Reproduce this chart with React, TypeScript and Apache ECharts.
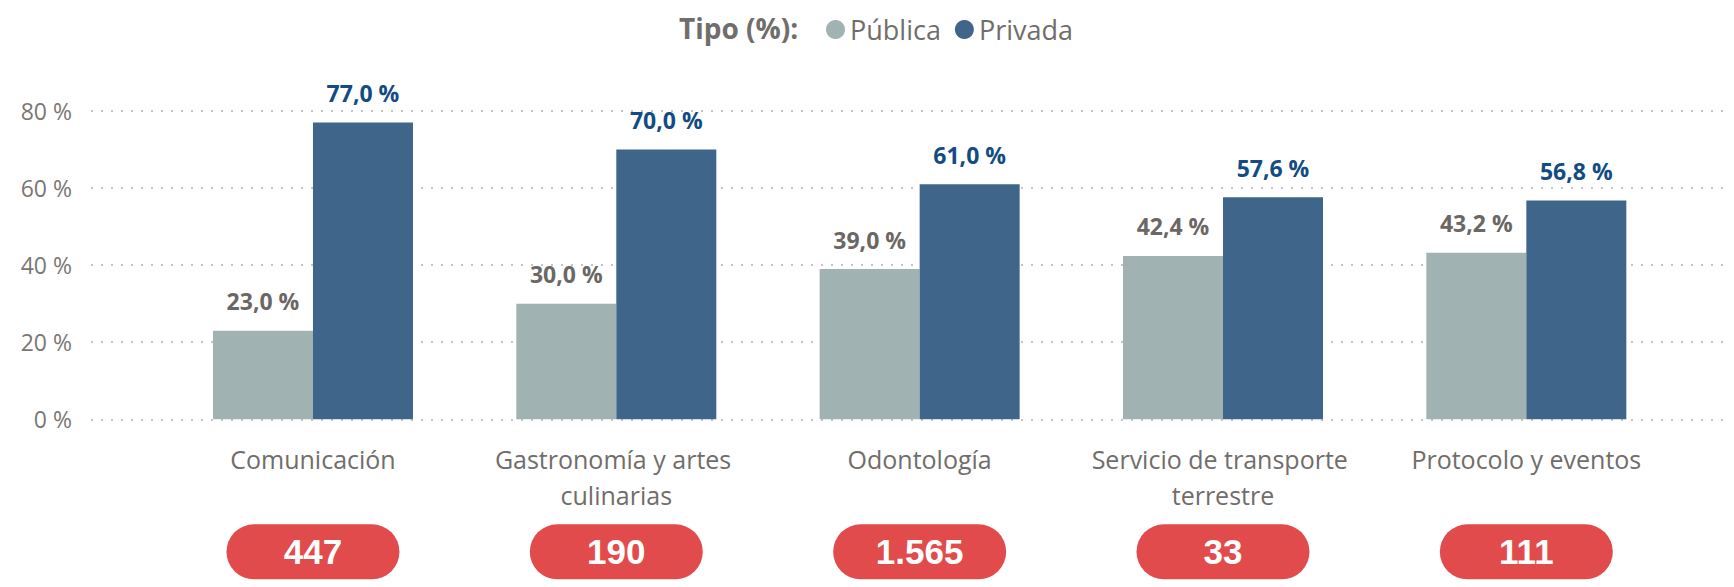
import React, { useEffect, useRef } from "react";
import * as echarts from "echarts";

const categories = [
  "Comunicación",
  "Gastronomía y artes culinarias",
  "Odontología",
  "Servicio de transporte terrestre",
  "Protocolo y eventos",
];
const publica = [23.0, 30.0, 39.0, 42.4, 43.2];
const privada = [77.0, 70.0, 61.0, 57.6, 56.8];
const totals = [447, 190, 1565, 33, 111];
const seriesNames = ["Pública", "Privada"];
const legendTitle = "Tipo (%):";
const yTicks = { min: 0, max: 80, interval: 20 };

const FONT = "'Open Sans', 'Noto Sans', sans-serif";
const GREY = "#706d6a";
const C_PUB = "#a0b2b1";
const C_PRIV = "#40658a";
const PILL = "#e24b4b";

const fmtPct = (v: number) => v.toFixed(1).replace(".", ",") + " %";
const fmtThousands = (v: number) =>
  String(v).replace(/\B(?=(\d{3})+(?!\d))/g, ".");

export default function App() {
  const ref = useRef<HTMLDivElement>(null);
  useEffect(() => {
    if (!ref.current) return;
    const chart = echarts.init(ref.current, null, { renderer: "svg" });
    const gridTop = 111;
    const gridBottom = 587 - 419.3;
    chart.setOption({
      animation: false,
      textStyle: { fontFamily: FONT },
      title: {
        text: legendTitle,
        left: 679,
        top: 14,
        padding: 0,
        textStyle: { fontFamily: FONT, fontSize: 28, fontWeight: "bold", color: GREY },
      },
      legend: {
        data: seriesNames,
        left: 826,
        top: 16,
        padding: 0,
        icon: "circle",
        itemWidth: 19,
        itemHeight: 19,
        itemGap: 14,
        textStyle: { fontFamily: FONT, fontSize: 27, color: GREY },
      },
      grid: [
        { left: 91, right: 4, top: gridTop, bottom: gridBottom },
        { left: 161.3, right: 56, top: gridTop, bottom: gridBottom },
      ],
      xAxis: [
        { gridIndex: 0, type: "value", show: false, min: 0, max: 1 },
        {
          gridIndex: 1,
          type: "category",
          data: categories,
          axisLine: { show: false },
          axisTick: { show: false },
          axisLabel: {
            interval: 0,
            margin: 22,
            fontFamily: FONT,
            fontSize: 25,
            lineHeight: 36,
            color: GREY,
            width: 290,
            overflow: "break",
          },
        },
        {
          gridIndex: 1,
          type: "category",
          position: "bottom",
          offset: 105,
          data: totals.map((t) => fmtThousands(t)),
          axisLine: { show: false },
          axisTick: { show: false },
          axisLabel: {
            interval: 0,
            margin: 0,
            fontFamily: "'Liberation Sans', Arial, sans-serif",
            fontWeight: "bold",
            fontSize: 35,
            color: "#ffffff",
            backgroundColor: PILL,
            borderRadius: 27.5,
            width: 173,
            height: 55,
            lineHeight: 55,
            align: "center",
            padding: 0,
          },
        },
      ],
      yAxis: [
        {
          gridIndex: 0,
          type: "value",
          min: yTicks.min,
          max: yTicks.max,
          interval: yTicks.interval,
          axisLine: { show: false },
          axisTick: { show: false },
          axisLabel: {
            formatter: "{value} %",
            margin: 19,
            fontFamily: FONT,
            fontSize: 23,
            color: "#7a7775",
          },
          splitLine: {
            lineStyle: { color: "#c4c4c4", width: 2, type: [2, 8] },
          },
        },
        {
          gridIndex: 1,
          type: "value",
          min: yTicks.min,
          max: yTicks.max,
          interval: yTicks.interval,
          show: false,
          splitLine: { show: false },
        },
      ],
      series: [
        {
          name: seriesNames[0],
          type: "bar",
          xAxisIndex: 1,
          yAxisIndex: 1,
          data: publica,
          barWidth: 100,
          barGap: "0%",
          itemStyle: { color: C_PUB },
          label: {
            show: true,
            position: "top",
            distance: 18,
            formatter: (p: any) => fmtPct(p.value),
            fontFamily: FONT,
            fontSize: 23,
            fontWeight: "bold",
            color: "#6b6764",
          },
        },
        {
          name: seriesNames[1],
          type: "bar",
          xAxisIndex: 1,
          yAxisIndex: 1,
          data: privada,
          barWidth: 100,
          barGap: "0%",
          itemStyle: { color: C_PRIV },
          label: {
            show: true,
            position: "top",
            distance: 18,
            formatter: (p: any) => fmtPct(p.value),
            fontFamily: FONT,
            fontSize: 23,
            fontWeight: "bold",
            color: "#124c82",
          },
        },
      ],
    });
    return () => chart.dispose();
  }, []);
  return (
    <div
      ref={ref}
      style={{ position: "fixed", left: 0, top: 0, width: 1734, height: 587, background: "#ffffff" }}
    />
  );
}
